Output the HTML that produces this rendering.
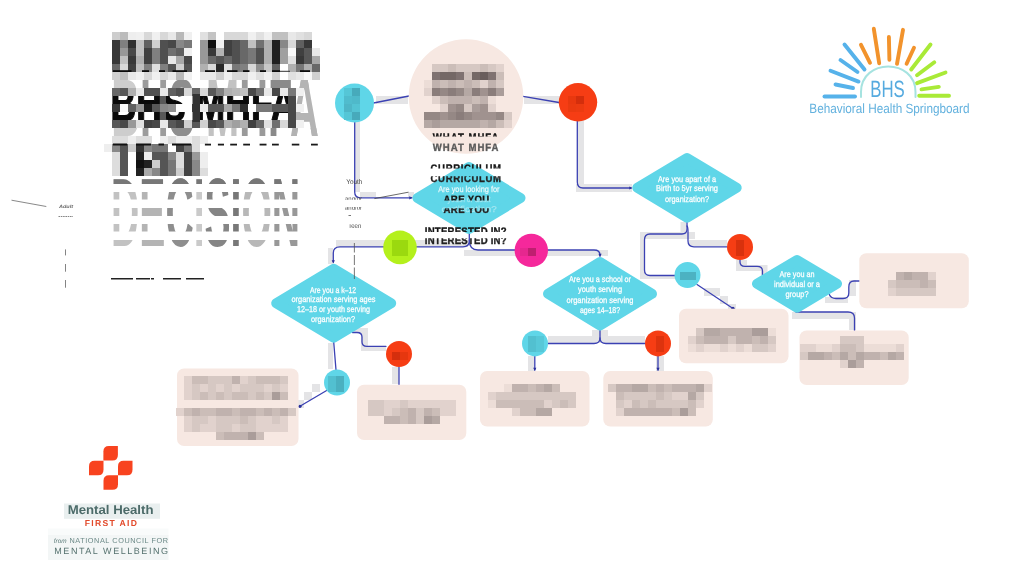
<!DOCTYPE html>
<html lang="en"><head><meta charset="utf-8"><title>BHS MHFA Decision Tree</title>
<style>
html,body{margin:0;padding:0;background:#fff;}
body{width:1024px;height:576px;overflow:hidden;font-family:"Liberation Sans",sans-serif;}
svg{display:block;position:absolute;left:0;top:0;}
text{font-family:"Liberation Sans",sans-serif;text-rendering:geometricPrecision;}
</style></head><body>
<svg width="1024" height="576" viewBox="0 0 1024 576">
<rect width="1024" height="576" fill="#fff"/>
<filter id="flat" filterUnits="userSpaceOnUse" x="0" y="0" width="1024" height="576"><feOffset dx="0" dy="0"/></filter>
<g filter="url(#flat)">

<g id="bands">
<rect x="376.0" y="96.0" width="32.0" height="8.0" fill="#e4e4e6"/>
<rect x="524.0" y="96.0" width="36.0" height="8.0" fill="#e4e4e6"/>
<rect x="355.0" y="120.0" width="5.0" height="72.0" fill="#e4e4e6"/>
<rect x="360.0" y="192.0" width="16.0" height="5.0" fill="#e4e4e6"/>
<rect x="408.0" y="192.0" width="6.0" height="5.0" fill="#e4e4e6"/>
<rect x="577.5" y="120.0" width="6.5" height="72.0" fill="#e4e4e6"/>
<rect x="576.0" y="184.0" width="56.0" height="8.0" fill="#e4e4e6"/>
<rect x="336.0" y="240.0" width="132.0" height="7.0" fill="#e4e4e6"/>
<rect x="328.0" y="248.0" width="5.0" height="16.0" fill="#e4e4e6"/>
<rect x="464.0" y="250.0" width="144.0" height="6.0" fill="#e4e4e6"/>
<rect x="328.0" y="343.0" width="5.0" height="26.0" fill="#e4e4e6"/>
<rect x="312.0" y="384.0" width="8.0" height="8.0" fill="#e4e4e6"/>
<rect x="304.0" y="392.0" width="8.0" height="8.0" fill="#e4e4e6"/>
<rect x="296.0" y="400.0" width="8.0" height="8.0" fill="#e4e4e6"/>
<rect x="352.0" y="328.0" width="16.0" height="5.0" fill="#e4e4e6"/>
<rect x="361.0" y="333.0" width="7.0" height="18.0" fill="#e4e4e6"/>
<rect x="361.0" y="346.0" width="25.0" height="5.0" fill="#e4e4e6"/>
<rect x="392.0" y="367.0" width="7.0" height="17.0" fill="#e4e4e6"/>
<rect x="548.0" y="336.0" width="97.0" height="7.0" fill="#e4e4e6"/>
<rect x="592.0" y="330.0" width="16.0" height="13.0" fill="#e4e4e6"/>
<rect x="528.0" y="356.0" width="6.5" height="18.0" fill="#e4e4e6"/>
<rect x="656.0" y="356.0" width="8.0" height="18.0" fill="#e4e4e6"/>
<rect x="680.5" y="222.0" width="5.5" height="17.0" fill="#e4e4e6"/>
<rect x="640.0" y="232.0" width="55.0" height="7.0" fill="#e4e4e6"/>
<rect x="640.0" y="232.0" width="5.0" height="47.0" fill="#e4e4e6"/>
<rect x="640.0" y="275.0" width="35.0" height="4.0" fill="#e4e4e6"/>
<rect x="689.0" y="240.0" width="38.0" height="6.0" fill="#e4e4e6"/>
<rect x="736.0" y="260.0" width="11.0" height="11.0" fill="#e4e4e6"/>
<rect x="747.0" y="265.0" width="20.0" height="6.0" fill="#e4e4e6"/>
<rect x="761.0" y="265.0" width="6.5" height="10.0" fill="#e4e4e6"/>
<rect x="704.0" y="288.0" width="16.0" height="8.0" fill="#e4e4e6"/>
<rect x="720.0" y="296.0" width="8.0" height="8.0" fill="#e4e4e6"/>
<rect x="728.0" y="304.0" width="8.0" height="6.0" fill="#e4e4e6"/>
<rect x="825.0" y="297.0" width="23.0" height="6.0" fill="#e4e4e6"/>
<rect x="849.0" y="280.0" width="7.0" height="16.0" fill="#e4e4e6"/>
<rect x="792.0" y="312.0" width="64.0" height="7.0" fill="#e4e4e6"/>
<rect x="849.0" y="319.0" width="7.0" height="11.0" fill="#e4e4e6"/>
</g>
<g id="lines">
<path d="M373.5,103 L409,96" fill="none" stroke="#3b41b3" stroke-width="1.3" stroke-linecap="round" stroke-linejoin="round"/>
<path d="M523,96.3 L559,102.5" fill="none" stroke="#3b41b3" stroke-width="1.3" stroke-linecap="round" stroke-linejoin="round"/>
<path d="M354.7,122 V192 Q354.7,197.8 360.5,197.8 H412" fill="none" stroke="#3b41b3" stroke-width="1.3" stroke-linecap="round" stroke-linejoin="round"/>
<path d="M374.4,198.6 L408.5,192.2" stroke="#444" stroke-width="0.8" fill="none"/>
<path d="M577.3,121 V182 Q577.3,188 583,188 H631" fill="none" stroke="#3b41b3" stroke-width="1.3" stroke-linecap="round" stroke-linejoin="round"/>
<path d="M469.3,233 V241 Q469.3,246.8 463,246.8 H340 Q333.3,246.8 333.3,253 V262" fill="none" stroke="#3b41b3" stroke-width="1.3" stroke-linecap="round" stroke-linejoin="round"/>
<path d="M469.3,240 Q469.3,250 478,250 H594 Q600,250 600,255 V256" fill="none" stroke="#3b41b3" stroke-width="1.3" stroke-linecap="round" stroke-linejoin="round"/>
<path d="M333.7,342 L336,370" fill="none" stroke="#3b41b3" stroke-width="1.3" stroke-linecap="round" stroke-linejoin="round"/>
<path d="M327.5,390 L299.5,406.5" fill="none" stroke="#3b41b3" stroke-width="1.3" stroke-linecap="round" stroke-linejoin="round"/>
<path d="M352.5,332.5 H357 Q362,332.5 362,337 V342 Q362,346.3 367,346.3 H386" fill="none" stroke="#3b41b3" stroke-width="1.3" stroke-linecap="round" stroke-linejoin="round"/>
<path d="M399,367 V385" fill="none" stroke="#3b41b3" stroke-width="1.3" stroke-linecap="round" stroke-linejoin="round"/>
<path d="M600,330 V338 Q600,343.5 594,343.5 H548" fill="none" stroke="#3b41b3" stroke-width="1.3" stroke-linecap="round" stroke-linejoin="round"/>
<path d="M600,338 Q600,343.5 606,343.5 H645" fill="none" stroke="#3b41b3" stroke-width="1.3" stroke-linecap="round" stroke-linejoin="round"/>
<path d="M534.8,356 V370" fill="none" stroke="#3b41b3" stroke-width="1.3" stroke-linecap="round" stroke-linejoin="round"/>
<path d="M658,356 V370" fill="none" stroke="#3b41b3" stroke-width="1.3" stroke-linecap="round" stroke-linejoin="round"/>
<path d="M687,222 V229 Q687,234 682,234 H650 Q644.5,234 644.5,240 V270 Q644.5,275.5 650,275.5 H675" fill="none" stroke="#3b41b3" stroke-width="1.3" stroke-linecap="round" stroke-linejoin="round"/>
<path d="M687,226 Q688,227 688,232 V241 Q688,246.8 694,246.8 H727" fill="none" stroke="#3b41b3" stroke-width="1.3" stroke-linecap="round" stroke-linejoin="round"/>
<path d="M740,260 V262 Q740,266.3 745,266.3 H757 Q762.5,266.3 762.5,271 V275" fill="none" stroke="#3b41b3" stroke-width="1.3" stroke-linecap="round" stroke-linejoin="round"/>
<path d="M697,284.5 L733,308.5" fill="none" stroke="#3b41b3" stroke-width="1.3" stroke-linecap="round" stroke-linejoin="round"/>
<path d="M829.3,294.5 Q831,298.5 836,298.5 H843 Q848.8,298.5 848.8,293 V287 Q848.8,281 854,281 H860" fill="none" stroke="#3b41b3" stroke-width="1.3" stroke-linecap="round" stroke-linejoin="round"/>
<path d="M796,312 H848 Q854.5,312 854.5,318 V331" fill="none" stroke="#3b41b3" stroke-width="1.3" stroke-linecap="round" stroke-linejoin="round"/>
<polygon points="412.5,197.8 409.3,196.2 409.3,199.4" fill="#2a2f9a"/>
<polygon points="632.5,188.0 629.3,186.4 629.3,189.6" fill="#2a2f9a"/>
<polygon points="333.3,263.5 331.7,260.3 334.9,260.3" fill="#2a2f9a"/>
<polygon points="600.0,257.0 598.4,253.8 601.6,253.8" fill="#2a2f9a"/>
<polygon points="534.8,371.0 533.2,367.8 536.4,367.8" fill="#2a2f9a"/>
<polygon points="658.0,371.0 656.4,367.8 659.6,367.8" fill="#2a2f9a"/>
<circle cx="300" cy="406.3" r="1.6" fill="#2a2f9a"/>
<circle cx="733" cy="308.3" r="1.6" fill="#2a2f9a"/>
</g>
<g id="boxes">
<rect x="177.0" y="368.4" width="121.5" height="77.6" rx="7" fill="#f7e8e2"/>
<rect x="357.0" y="384.8" width="109.3" height="55.2" rx="7" fill="#f7e8e2"/>
<rect x="480.0" y="371.0" width="109.5" height="55.5" rx="7" fill="#f7e8e2"/>
<rect x="603.3" y="371.0" width="109.5" height="55.5" rx="7" fill="#f7e8e2"/>
<rect x="679.0" y="308.8" width="109.5" height="54.4" rx="7" fill="#f7e8e2"/>
<rect x="799.5" y="330.5" width="109.2" height="54.5" rx="7" fill="#f7e8e2"/>
<rect x="859.3" y="253.3" width="109.5" height="55.0" rx="7" fill="#f7e8e2"/>
</g>
<g id="boxmosaic">
<rect x="184" y="376" width="8" height="8" fill="#e1d2cd"/>
<rect x="192" y="376" width="8" height="8" fill="#cbbdb8"/>
<rect x="200" y="376" width="8" height="8" fill="#cbbdb8"/>
<rect x="208" y="376" width="8" height="8" fill="#d6c8c3"/>
<rect x="216" y="376" width="8" height="8" fill="#d6c8c3"/>
<rect x="224" y="376" width="8" height="8" fill="#d6c8c3"/>
<rect x="232" y="376" width="8" height="8" fill="#c0b2ae"/>
<rect x="240" y="376" width="8" height="8" fill="#e1d2cd"/>
<rect x="248" y="376" width="8" height="8" fill="#d6c8c3"/>
<rect x="256" y="376" width="8" height="8" fill="#cbbdb8"/>
<rect x="264" y="376" width="8" height="8" fill="#cbbdb8"/>
<rect x="272" y="376" width="8" height="8" fill="#cbbdb8"/>
<rect x="280" y="376" width="8" height="8" fill="#d6c8c3"/>
<rect x="184" y="384" width="8" height="8" fill="#e1d2cd"/>
<rect x="192" y="384" width="8" height="8" fill="#d6c8c3"/>
<rect x="200" y="384" width="8" height="8" fill="#e1d2cd"/>
<rect x="208" y="384" width="8" height="8" fill="#d6c8c3"/>
<rect x="216" y="384" width="8" height="8" fill="#e1d2cd"/>
<rect x="224" y="384" width="8" height="8" fill="#d6c8c3"/>
<rect x="232" y="384" width="8" height="8" fill="#e1d2cd"/>
<rect x="240" y="384" width="8" height="8" fill="#d6c8c3"/>
<rect x="248" y="384" width="8" height="8" fill="#d6c8c3"/>
<rect x="256" y="384" width="8" height="8" fill="#d6c8c3"/>
<rect x="264" y="384" width="8" height="8" fill="#e1d2cd"/>
<rect x="272" y="384" width="8" height="8" fill="#d6c8c3"/>
<rect x="280" y="384" width="8" height="8" fill="#e1d2cd"/>
<rect x="184" y="392" width="8" height="8" fill="#e1d2cd"/>
<rect x="192" y="392" width="8" height="8" fill="#d6c8c3"/>
<rect x="200" y="392" width="8" height="8" fill="#cbbdb8"/>
<rect x="208" y="392" width="8" height="8" fill="#d6c8c3"/>
<rect x="216" y="392" width="8" height="8" fill="#cbbdb8"/>
<rect x="224" y="392" width="8" height="8" fill="#d6c8c3"/>
<rect x="232" y="392" width="8" height="8" fill="#cbbdb8"/>
<rect x="240" y="392" width="8" height="8" fill="#cbbdb8"/>
<rect x="248" y="392" width="8" height="8" fill="#d6c8c3"/>
<rect x="256" y="392" width="8" height="8" fill="#cbbdb8"/>
<rect x="264" y="392" width="8" height="8" fill="#d6c8c3"/>
<rect x="272" y="392" width="8" height="8" fill="#aa9d9a"/>
<rect x="280" y="392" width="8" height="8" fill="#cbbdb8"/>
<rect x="176" y="408" width="8" height="8" fill="#e1d2cd"/>
<rect x="184" y="408" width="8" height="8" fill="#cbbdb8"/>
<rect x="192" y="408" width="8" height="8" fill="#c0b2ae"/>
<rect x="200" y="408" width="8" height="8" fill="#cbbdb8"/>
<rect x="208" y="408" width="8" height="8" fill="#cbbdb8"/>
<rect x="216" y="408" width="8" height="8" fill="#c0b2ae"/>
<rect x="224" y="408" width="8" height="8" fill="#c0b2ae"/>
<rect x="232" y="408" width="8" height="8" fill="#cbbdb8"/>
<rect x="240" y="408" width="8" height="8" fill="#c0b2ae"/>
<rect x="248" y="408" width="8" height="8" fill="#c0b2ae"/>
<rect x="256" y="408" width="8" height="8" fill="#cbbdb8"/>
<rect x="264" y="408" width="8" height="8" fill="#c0b2ae"/>
<rect x="272" y="408" width="8" height="8" fill="#cbbdb8"/>
<rect x="280" y="408" width="8" height="8" fill="#c0b2ae"/>
<rect x="288" y="408" width="8" height="8" fill="#d6c8c3"/>
<rect x="184" y="416" width="8" height="8" fill="#e1d2cd"/>
<rect x="192" y="416" width="8" height="8" fill="#d6c8c3"/>
<rect x="200" y="416" width="8" height="8" fill="#d6c8c3"/>
<rect x="208" y="416" width="8" height="8" fill="#e1d2cd"/>
<rect x="216" y="416" width="8" height="8" fill="#d6c8c3"/>
<rect x="224" y="416" width="8" height="8" fill="#d6c8c3"/>
<rect x="232" y="416" width="8" height="8" fill="#d6c8c3"/>
<rect x="240" y="416" width="8" height="8" fill="#cbbdb8"/>
<rect x="248" y="416" width="8" height="8" fill="#d6c8c3"/>
<rect x="256" y="416" width="8" height="8" fill="#e1d2cd"/>
<rect x="264" y="416" width="8" height="8" fill="#e1d2cd"/>
<rect x="272" y="416" width="8" height="8" fill="#d6c8c3"/>
<rect x="280" y="416" width="8" height="8" fill="#e1d2cd"/>
<rect x="184" y="424" width="8" height="8" fill="#e1d2cd"/>
<rect x="192" y="424" width="8" height="8" fill="#d6c8c3"/>
<rect x="200" y="424" width="8" height="8" fill="#e1d2cd"/>
<rect x="208" y="424" width="8" height="8" fill="#e1d2cd"/>
<rect x="216" y="424" width="8" height="8" fill="#d6c8c3"/>
<rect x="224" y="424" width="8" height="8" fill="#d6c8c3"/>
<rect x="232" y="424" width="8" height="8" fill="#e1d2cd"/>
<rect x="240" y="424" width="8" height="8" fill="#d6c8c3"/>
<rect x="248" y="424" width="8" height="8" fill="#d6c8c3"/>
<rect x="256" y="424" width="8" height="8" fill="#e1d2cd"/>
<rect x="264" y="424" width="8" height="8" fill="#e1d2cd"/>
<rect x="272" y="424" width="8" height="8" fill="#e1d2cd"/>
<rect x="280" y="424" width="8" height="8" fill="#e1d2cd"/>
<rect x="216" y="432" width="8" height="8" fill="#cbbdb8"/>
<rect x="224" y="432" width="8" height="8" fill="#c0b2ae"/>
<rect x="232" y="432" width="8" height="8" fill="#c0b2ae"/>
<rect x="240" y="432" width="8" height="8" fill="#c0b2ae"/>
<rect x="248" y="432" width="8" height="8" fill="#aa9d9a"/>
<rect x="256" y="432" width="8" height="8" fill="#cbbdb8"/>
<rect x="368" y="400" width="8" height="8" fill="#d6c8c3"/>
<rect x="376" y="400" width="8" height="8" fill="#d6c8c3"/>
<rect x="384" y="400" width="8" height="8" fill="#e1d2cd"/>
<rect x="392" y="400" width="8" height="8" fill="#e1d2cd"/>
<rect x="400" y="400" width="8" height="8" fill="#d6c8c3"/>
<rect x="408" y="400" width="8" height="8" fill="#e1d2cd"/>
<rect x="416" y="400" width="8" height="8" fill="#e1d2cd"/>
<rect x="424" y="400" width="8" height="8" fill="#e1d2cd"/>
<rect x="432" y="400" width="8" height="8" fill="#e1d2cd"/>
<rect x="440" y="400" width="8" height="8" fill="#e1d2cd"/>
<rect x="448" y="400" width="8" height="8" fill="#e1d2cd"/>
<rect x="368" y="408" width="8" height="8" fill="#d6c8c3"/>
<rect x="376" y="408" width="8" height="8" fill="#d6c8c3"/>
<rect x="384" y="408" width="8" height="8" fill="#e1d2cd"/>
<rect x="392" y="408" width="8" height="8" fill="#d6c8c3"/>
<rect x="400" y="408" width="8" height="8" fill="#cbbdb8"/>
<rect x="408" y="408" width="8" height="8" fill="#c0b2ae"/>
<rect x="416" y="408" width="8" height="8" fill="#d6c8c3"/>
<rect x="424" y="408" width="8" height="8" fill="#c0b2ae"/>
<rect x="432" y="408" width="8" height="8" fill="#cbbdb8"/>
<rect x="440" y="408" width="8" height="8" fill="#e1d2cd"/>
<rect x="448" y="408" width="8" height="8" fill="#e1d2cd"/>
<rect x="384" y="416" width="8" height="8" fill="#c0b2ae"/>
<rect x="392" y="416" width="8" height="8" fill="#c0b2ae"/>
<rect x="400" y="416" width="8" height="8" fill="#cbbdb8"/>
<rect x="408" y="416" width="8" height="8" fill="#c0b2ae"/>
<rect x="416" y="416" width="8" height="8" fill="#d6c8c3"/>
<rect x="424" y="416" width="8" height="8" fill="#aa9d9a"/>
<rect x="432" y="416" width="8" height="8" fill="#b5a8a4"/>
<rect x="504" y="384" width="8" height="8" fill="#ecddd7"/>
<rect x="512" y="384" width="8" height="8" fill="#c0b2ae"/>
<rect x="520" y="384" width="8" height="8" fill="#c0b2ae"/>
<rect x="528" y="384" width="8" height="8" fill="#cbbdb8"/>
<rect x="536" y="384" width="8" height="8" fill="#c0b2ae"/>
<rect x="544" y="384" width="8" height="8" fill="#b5a8a4"/>
<rect x="552" y="384" width="8" height="8" fill="#cbbdb8"/>
<rect x="488" y="392" width="8" height="8" fill="#e1d2cd"/>
<rect x="496" y="392" width="8" height="8" fill="#d6c8c3"/>
<rect x="504" y="392" width="8" height="8" fill="#d6c8c3"/>
<rect x="512" y="392" width="8" height="8" fill="#d6c8c3"/>
<rect x="520" y="392" width="8" height="8" fill="#d6c8c3"/>
<rect x="528" y="392" width="8" height="8" fill="#d6c8c3"/>
<rect x="536" y="392" width="8" height="8" fill="#d6c8c3"/>
<rect x="544" y="392" width="8" height="8" fill="#d6c8c3"/>
<rect x="552" y="392" width="8" height="8" fill="#d6c8c3"/>
<rect x="560" y="392" width="8" height="8" fill="#d6c8c3"/>
<rect x="568" y="392" width="8" height="8" fill="#d6c8c3"/>
<rect x="488" y="400" width="8" height="8" fill="#ecddd7"/>
<rect x="496" y="400" width="8" height="8" fill="#cbbdb8"/>
<rect x="504" y="400" width="8" height="8" fill="#cbbdb8"/>
<rect x="512" y="400" width="8" height="8" fill="#cbbdb8"/>
<rect x="520" y="400" width="8" height="8" fill="#cbbdb8"/>
<rect x="528" y="400" width="8" height="8" fill="#cbbdb8"/>
<rect x="536" y="400" width="8" height="8" fill="#cbbdb8"/>
<rect x="544" y="400" width="8" height="8" fill="#e1d2cd"/>
<rect x="552" y="400" width="8" height="8" fill="#d6c8c3"/>
<rect x="560" y="400" width="8" height="8" fill="#cbbdb8"/>
<rect x="568" y="400" width="8" height="8" fill="#d6c8c3"/>
<rect x="512" y="408" width="8" height="8" fill="#e1d2cd"/>
<rect x="520" y="408" width="8" height="8" fill="#cbbdb8"/>
<rect x="528" y="408" width="8" height="8" fill="#cbbdb8"/>
<rect x="536" y="408" width="8" height="8" fill="#b5a8a4"/>
<rect x="544" y="408" width="8" height="8" fill="#b5a8a4"/>
<rect x="608" y="384" width="8" height="8" fill="#d6c8c3"/>
<rect x="616" y="384" width="8" height="8" fill="#c0b2ae"/>
<rect x="624" y="384" width="8" height="8" fill="#c0b2ae"/>
<rect x="632" y="384" width="8" height="8" fill="#b5a8a4"/>
<rect x="640" y="384" width="8" height="8" fill="#b5a8a4"/>
<rect x="648" y="384" width="8" height="8" fill="#cbbdb8"/>
<rect x="656" y="384" width="8" height="8" fill="#c0b2ae"/>
<rect x="664" y="384" width="8" height="8" fill="#cbbdb8"/>
<rect x="672" y="384" width="8" height="8" fill="#c0b2ae"/>
<rect x="680" y="384" width="8" height="8" fill="#c0b2ae"/>
<rect x="688" y="384" width="8" height="8" fill="#c0b2ae"/>
<rect x="696" y="384" width="8" height="8" fill="#b5a8a4"/>
<rect x="704" y="384" width="8" height="8" fill="#e1d2cd"/>
<rect x="616" y="392" width="8" height="8" fill="#cbbdb8"/>
<rect x="624" y="392" width="8" height="8" fill="#d6c8c3"/>
<rect x="632" y="392" width="8" height="8" fill="#d6c8c3"/>
<rect x="640" y="392" width="8" height="8" fill="#d6c8c3"/>
<rect x="648" y="392" width="8" height="8" fill="#d6c8c3"/>
<rect x="656" y="392" width="8" height="8" fill="#cbbdb8"/>
<rect x="664" y="392" width="8" height="8" fill="#d6c8c3"/>
<rect x="672" y="392" width="8" height="8" fill="#e1d2cd"/>
<rect x="680" y="392" width="8" height="8" fill="#e1d2cd"/>
<rect x="688" y="392" width="8" height="8" fill="#b5a8a4"/>
<rect x="696" y="392" width="8" height="8" fill="#d6c8c3"/>
<rect x="616" y="400" width="8" height="8" fill="#d6c8c3"/>
<rect x="624" y="400" width="8" height="8" fill="#e1d2cd"/>
<rect x="632" y="400" width="8" height="8" fill="#cbbdb8"/>
<rect x="640" y="400" width="8" height="8" fill="#d6c8c3"/>
<rect x="648" y="400" width="8" height="8" fill="#cbbdb8"/>
<rect x="656" y="400" width="8" height="8" fill="#d6c8c3"/>
<rect x="664" y="400" width="8" height="8" fill="#d6c8c3"/>
<rect x="672" y="400" width="8" height="8" fill="#d6c8c3"/>
<rect x="680" y="400" width="8" height="8" fill="#d6c8c3"/>
<rect x="688" y="400" width="8" height="8" fill="#cbbdb8"/>
<rect x="696" y="400" width="8" height="8" fill="#e1d2cd"/>
<rect x="616" y="408" width="8" height="8" fill="#e1d2cd"/>
<rect x="624" y="408" width="8" height="8" fill="#c0b2ae"/>
<rect x="632" y="408" width="8" height="8" fill="#c0b2ae"/>
<rect x="640" y="408" width="8" height="8" fill="#c0b2ae"/>
<rect x="648" y="408" width="8" height="8" fill="#c0b2ae"/>
<rect x="656" y="408" width="8" height="8" fill="#c0b2ae"/>
<rect x="664" y="408" width="8" height="8" fill="#c0b2ae"/>
<rect x="672" y="408" width="8" height="8" fill="#cbbdb8"/>
<rect x="680" y="408" width="8" height="8" fill="#aa9d9a"/>
<rect x="688" y="408" width="8" height="8" fill="#cbbdb8"/>
<rect x="696" y="328" width="8" height="8" fill="#d6c8c3"/>
<rect x="704" y="328" width="8" height="8" fill="#b5a8a4"/>
<rect x="712" y="328" width="8" height="8" fill="#b5a8a4"/>
<rect x="720" y="328" width="8" height="8" fill="#c0b2ae"/>
<rect x="728" y="328" width="8" height="8" fill="#c0b2ae"/>
<rect x="736" y="328" width="8" height="8" fill="#c0b2ae"/>
<rect x="744" y="328" width="8" height="8" fill="#c0b2ae"/>
<rect x="752" y="328" width="8" height="8" fill="#aa9d9a"/>
<rect x="760" y="328" width="8" height="8" fill="#aa9d9a"/>
<rect x="768" y="328" width="8" height="8" fill="#ecddd7"/>
<rect x="688" y="336" width="8" height="8" fill="#e1d2cd"/>
<rect x="696" y="336" width="8" height="8" fill="#cbbdb8"/>
<rect x="704" y="336" width="8" height="8" fill="#c0b2ae"/>
<rect x="712" y="336" width="8" height="8" fill="#c0b2ae"/>
<rect x="720" y="336" width="8" height="8" fill="#c0b2ae"/>
<rect x="728" y="336" width="8" height="8" fill="#d6c8c3"/>
<rect x="736" y="336" width="8" height="8" fill="#c0b2ae"/>
<rect x="744" y="336" width="8" height="8" fill="#c0b2ae"/>
<rect x="752" y="336" width="8" height="8" fill="#cbbdb8"/>
<rect x="760" y="336" width="8" height="8" fill="#c0b2ae"/>
<rect x="768" y="336" width="8" height="8" fill="#d6c8c3"/>
<rect x="688" y="344" width="8" height="8" fill="#ecddd7"/>
<rect x="696" y="344" width="8" height="8" fill="#e1d2cd"/>
<rect x="704" y="344" width="8" height="8" fill="#ecddd7"/>
<rect x="712" y="344" width="8" height="8" fill="#ecddd7"/>
<rect x="720" y="344" width="8" height="8" fill="#e1d2cd"/>
<rect x="728" y="344" width="8" height="8" fill="#ecddd7"/>
<rect x="736" y="344" width="8" height="8" fill="#e1d2cd"/>
<rect x="744" y="344" width="8" height="8" fill="#ecddd7"/>
<rect x="752" y="344" width="8" height="8" fill="#d6c8c3"/>
<rect x="760" y="344" width="8" height="8" fill="#d6c8c3"/>
<rect x="768" y="344" width="8" height="8" fill="#e1d2cd"/>
<rect x="840" y="336" width="8" height="8" fill="#d6c8c3"/>
<rect x="848" y="336" width="8" height="8" fill="#d6c8c3"/>
<rect x="856" y="336" width="8" height="8" fill="#d6c8c3"/>
<rect x="800" y="344" width="8" height="8" fill="#e1d2cd"/>
<rect x="808" y="344" width="8" height="8" fill="#e1d2cd"/>
<rect x="816" y="344" width="8" height="8" fill="#ecddd7"/>
<rect x="824" y="344" width="8" height="8" fill="#ecddd7"/>
<rect x="832" y="344" width="8" height="8" fill="#e1d2cd"/>
<rect x="840" y="344" width="8" height="8" fill="#cbbdb8"/>
<rect x="848" y="344" width="8" height="8" fill="#cbbdb8"/>
<rect x="856" y="344" width="8" height="8" fill="#d6c8c3"/>
<rect x="864" y="344" width="8" height="8" fill="#ecddd7"/>
<rect x="872" y="344" width="8" height="8" fill="#ecddd7"/>
<rect x="880" y="344" width="8" height="8" fill="#ecddd7"/>
<rect x="888" y="344" width="8" height="8" fill="#ecddd7"/>
<rect x="896" y="344" width="8" height="8" fill="#e1d2cd"/>
<rect x="800" y="352" width="8" height="8" fill="#d6c8c3"/>
<rect x="808" y="352" width="8" height="8" fill="#b5a8a4"/>
<rect x="816" y="352" width="8" height="8" fill="#b5a8a4"/>
<rect x="824" y="352" width="8" height="8" fill="#c0b2ae"/>
<rect x="832" y="352" width="8" height="8" fill="#cbbdb8"/>
<rect x="840" y="352" width="8" height="8" fill="#b5a8a4"/>
<rect x="848" y="352" width="8" height="8" fill="#cbbdb8"/>
<rect x="856" y="352" width="8" height="8" fill="#b5a8a4"/>
<rect x="864" y="352" width="8" height="8" fill="#c0b2ae"/>
<rect x="872" y="352" width="8" height="8" fill="#c0b2ae"/>
<rect x="880" y="352" width="8" height="8" fill="#cbbdb8"/>
<rect x="888" y="352" width="8" height="8" fill="#b5a8a4"/>
<rect x="896" y="352" width="8" height="8" fill="#c0b2ae"/>
<rect x="840" y="360" width="8" height="8" fill="#e1d2cd"/>
<rect x="848" y="360" width="8" height="8" fill="#aa9d9a"/>
<rect x="856" y="360" width="8" height="8" fill="#c0b2ae"/>
<rect x="896" y="272" width="8" height="8" fill="#c0b2ae"/>
<rect x="904" y="272" width="8" height="8" fill="#b5a8a4"/>
<rect x="912" y="272" width="8" height="8" fill="#c0b2ae"/>
<rect x="920" y="272" width="8" height="8" fill="#c0b2ae"/>
<rect x="928" y="272" width="8" height="8" fill="#e1d2cd"/>
<rect x="888" y="280" width="8" height="8" fill="#d6c8c3"/>
<rect x="896" y="280" width="8" height="8" fill="#cbbdb8"/>
<rect x="904" y="280" width="8" height="8" fill="#cbbdb8"/>
<rect x="912" y="280" width="8" height="8" fill="#cbbdb8"/>
<rect x="920" y="280" width="8" height="8" fill="#c0b2ae"/>
<rect x="928" y="280" width="8" height="8" fill="#cbbdb8"/>
<rect x="888" y="288" width="8" height="8" fill="#e1d2cd"/>
<rect x="896" y="288" width="8" height="8" fill="#d6c8c3"/>
<rect x="904" y="288" width="8" height="8" fill="#d6c8c3"/>
<rect x="912" y="288" width="8" height="8" fill="#d6c8c3"/>
<rect x="920" y="288" width="8" height="8" fill="#d6c8c3"/>
<rect x="928" y="288" width="8" height="8" fill="#d6c8c3"/>
</g>
<g id="diamonds">
<polygon points="417.5,198.0 469.0,167.0 520.5,198.0 469.0,229.0" fill="#5fd6e8" stroke="#5fd6e8" stroke-width="10" stroke-linejoin="round"/>
<polygon points="276.2,303.2 333.7,268.7 391.2,303.2 333.7,337.7" fill="#5fd6e8" stroke="#5fd6e8" stroke-width="10" stroke-linejoin="round"/>
<polygon points="548.0,293.8 600.0,262.0 652.0,293.8 600.0,325.6" fill="#5fd6e8" stroke="#5fd6e8" stroke-width="10" stroke-linejoin="round"/>
<polygon points="637.3,187.8 687.0,158.0 736.7,187.8 687.0,217.6" fill="#5fd6e8" stroke="#5fd6e8" stroke-width="10" stroke-linejoin="round"/>
<polygon points="757.0,283.8 797.0,260.0 837.0,283.8 797.0,307.6" fill="#5fd6e8" stroke="#5fd6e8" stroke-width="10" stroke-linejoin="round"/>
</g>
<g id="circles">
<circle cx="466.0" cy="96.5" r="57.3" fill="#f7e8e2"/>
<circle cx="354.5" cy="103.0" r="19.5" fill="#5fd6e8"/>
<circle cx="578.0" cy="102.3" r="19.2" fill="#f63d14"/>
<circle cx="400.0" cy="247.4" r="16.8" fill="#b4f01c"/>
<circle cx="531.3" cy="250.4" r="16.7" fill="#f5289b"/>
<circle cx="399.0" cy="354.0" r="13.0" fill="#f63d14"/>
<circle cx="337.0" cy="382.5" r="13.0" fill="#5fd6e8"/>
<circle cx="535.0" cy="343.4" r="13.0" fill="#5fd6e8"/>
<circle cx="658.0" cy="343.4" r="13.0" fill="#f63d14"/>
<circle cx="687.5" cy="275.0" r="13.0" fill="#5fd6e8"/>
<circle cx="740.0" cy="247.0" r="13.0" fill="#f63d14"/>
</g>
<g id="cmosaic">
<rect x="344" y="88" width="8" height="8" fill="#55c6d6"/>
<rect x="352" y="88" width="8" height="8" fill="#47aabb"/>
<rect x="344" y="96" width="8" height="8" fill="#50bccd"/>
<rect x="352" y="96" width="8" height="8" fill="#4fb9ca"/>
<rect x="344" y="104" width="8" height="8" fill="#4eb6c7"/>
<rect x="352" y="104" width="8" height="8" fill="#54c3d3"/>
<rect x="344" y="112" width="8" height="8" fill="#55c6d6"/>
<rect x="352" y="112" width="8" height="8" fill="#47aabb"/>
<rect x="568" y="96" width="8" height="8" fill="#e8380f"/>
<rect x="576" y="96" width="8" height="8" fill="#d42e0c"/>
<rect x="568" y="104" width="8" height="8" fill="#ea3a10"/>
<rect x="576" y="104" width="8" height="8" fill="#ec3b11"/>
<rect x="392" y="240" width="16" height="16" fill="#9bd90f"/>
<rect x="520" y="248" width="8" height="8" fill="#e6278f"/>
<rect x="528" y="248" width="8" height="8" fill="#bf1f70"/>
<rect x="392" y="352" width="8" height="8" fill="#d52f0d"/>
<rect x="400" y="352" width="8" height="8" fill="#e6370f"/>
<rect x="328" y="376" width="8" height="16" fill="#52c0d0"/>
<rect x="336" y="376" width="8" height="16" fill="#4ab0c0"/>
<rect x="528" y="336" width="8" height="16" fill="#52c0d0"/>
<rect x="536" y="336" width="8" height="16" fill="#57c8d8"/>
<rect x="656" y="336" width="8" height="16" fill="#dd330e"/>
<rect x="680" y="272" width="16" height="8" fill="#4cb2c2"/>
<rect x="736" y="240" width="8" height="16" fill="#d9310d"/>
</g>
<g id="bigmosaic">
<rect x="432" y="64" width="8" height="8" fill="#d6c8c3"/>
<rect x="440" y="64" width="8" height="8" fill="#d6c8c3"/>
<rect x="448" y="64" width="8" height="8" fill="#cbbdb8"/>
<rect x="456" y="64" width="8" height="8" fill="#d6c8c3"/>
<rect x="464" y="64" width="8" height="8" fill="#d6c8c3"/>
<rect x="472" y="64" width="8" height="8" fill="#d6c8c3"/>
<rect x="480" y="64" width="8" height="8" fill="#cbbdb8"/>
<rect x="488" y="64" width="8" height="8" fill="#d6c8c3"/>
<rect x="496" y="64" width="8" height="8" fill="#e1d2cd"/>
<rect x="432" y="72" width="8" height="8" fill="#7f7271"/>
<rect x="440" y="72" width="8" height="8" fill="#746866"/>
<rect x="448" y="72" width="8" height="8" fill="#746866"/>
<rect x="456" y="72" width="8" height="8" fill="#7f7271"/>
<rect x="464" y="72" width="8" height="8" fill="#cbbdb8"/>
<rect x="472" y="72" width="8" height="8" fill="#746866"/>
<rect x="480" y="72" width="8" height="8" fill="#695d5c"/>
<rect x="488" y="72" width="8" height="8" fill="#7f7271"/>
<rect x="496" y="72" width="8" height="8" fill="#cbbdb8"/>
<rect x="424" y="80" width="8" height="8" fill="#ecddd7"/>
<rect x="432" y="80" width="8" height="8" fill="#c0b2ae"/>
<rect x="440" y="80" width="8" height="8" fill="#cbbdb8"/>
<rect x="448" y="80" width="8" height="8" fill="#c0b2ae"/>
<rect x="456" y="80" width="8" height="8" fill="#cbbdb8"/>
<rect x="464" y="80" width="8" height="8" fill="#c0b2ae"/>
<rect x="472" y="80" width="8" height="8" fill="#cbbdb8"/>
<rect x="480" y="80" width="8" height="8" fill="#e1d2cd"/>
<rect x="488" y="80" width="8" height="8" fill="#c0b2ae"/>
<rect x="496" y="80" width="8" height="8" fill="#d6c8c3"/>
<rect x="424" y="88" width="8" height="8" fill="#e1d2cd"/>
<rect x="432" y="88" width="8" height="8" fill="#8a7d7b"/>
<rect x="440" y="88" width="8" height="8" fill="#958885"/>
<rect x="448" y="88" width="8" height="8" fill="#8a7d7b"/>
<rect x="456" y="88" width="8" height="8" fill="#958885"/>
<rect x="464" y="88" width="8" height="8" fill="#b5a8a4"/>
<rect x="472" y="88" width="8" height="8" fill="#8a7d7b"/>
<rect x="480" y="88" width="8" height="8" fill="#a0928f"/>
<rect x="488" y="88" width="8" height="8" fill="#8a7d7b"/>
<rect x="496" y="88" width="8" height="8" fill="#aa9d9a"/>
<rect x="432" y="96" width="8" height="8" fill="#e1d2cd"/>
<rect x="440" y="96" width="8" height="8" fill="#cbbdb8"/>
<rect x="448" y="96" width="8" height="8" fill="#c0b2ae"/>
<rect x="456" y="96" width="8" height="8" fill="#c0b2ae"/>
<rect x="464" y="96" width="8" height="8" fill="#c0b2ae"/>
<rect x="472" y="96" width="8" height="8" fill="#cbbdb8"/>
<rect x="480" y="96" width="8" height="8" fill="#c0b2ae"/>
<rect x="488" y="96" width="8" height="8" fill="#ecddd7"/>
<rect x="440" y="104" width="8" height="8" fill="#e1d2cd"/>
<rect x="448" y="104" width="8" height="8" fill="#a0928f"/>
<rect x="456" y="104" width="8" height="8" fill="#958885"/>
<rect x="464" y="104" width="8" height="8" fill="#d6c8c3"/>
<rect x="472" y="104" width="8" height="8" fill="#aa9d9a"/>
<rect x="480" y="104" width="8" height="8" fill="#a0928f"/>
<rect x="488" y="104" width="8" height="8" fill="#e1d2cd"/>
<rect x="424" y="112" width="8" height="8" fill="#958885"/>
<rect x="432" y="112" width="8" height="8" fill="#958885"/>
<rect x="440" y="112" width="8" height="8" fill="#a0928f"/>
<rect x="448" y="112" width="8" height="8" fill="#958885"/>
<rect x="456" y="112" width="8" height="8" fill="#8a7d7b"/>
<rect x="464" y="112" width="8" height="8" fill="#958885"/>
<rect x="472" y="112" width="8" height="8" fill="#a0928f"/>
<rect x="480" y="112" width="8" height="8" fill="#a0928f"/>
<rect x="488" y="112" width="8" height="8" fill="#a0928f"/>
<rect x="496" y="112" width="8" height="8" fill="#958885"/>
<rect x="504" y="112" width="8" height="8" fill="#d6c8c3"/>
<rect x="424" y="120" width="8" height="8" fill="#b5a8a4"/>
<rect x="432" y="120" width="8" height="8" fill="#aa9d9a"/>
<rect x="440" y="120" width="8" height="8" fill="#b5a8a4"/>
<rect x="448" y="120" width="8" height="8" fill="#b5a8a4"/>
<rect x="456" y="120" width="8" height="8" fill="#b5a8a4"/>
<rect x="464" y="120" width="8" height="8" fill="#b5a8a4"/>
<rect x="472" y="120" width="8" height="8" fill="#b5a8a4"/>
<rect x="480" y="120" width="8" height="8" fill="#c0b2ae"/>
<rect x="488" y="120" width="8" height="8" fill="#b5a8a4"/>
<rect x="496" y="120" width="8" height="8" fill="#cbbdb8"/>
<rect x="504" y="120" width="8" height="8" fill="#e1d2cd"/>
</g>
<g id="dtext">
<text x="438.2" y="191.6" font-size="8.5" fill="#fff" fill-opacity="0.8" stroke="#fff" stroke-width="0.25" stroke-opacity="0.8" font-weight="normal" textLength="61.3" lengthAdjust="spacingAndGlyphs" >Are you looking for</text>
<text x="447.5" y="202.0" font-size="8.5" fill="#fff" fill-opacity="0.35" stroke="#fff" stroke-width="0.25" stroke-opacity="0.35" font-weight="normal" textLength="43.0" lengthAdjust="spacingAndGlyphs" >youth or adult</text>
<text x="441.4" y="211.8" font-size="8.5" fill="#fff" fill-opacity="0.35" stroke="#fff" stroke-width="0.25" stroke-opacity="0.35" font-weight="normal" textLength="55.3" lengthAdjust="spacingAndGlyphs" >certification?</text>
<text x="310.0" y="292.5" font-size="8.5" fill="#fff" fill-opacity="1" stroke="#fff" stroke-width="0.25" stroke-opacity="1" font-weight="normal" textLength="46.0" lengthAdjust="spacingAndGlyphs" >Are you a k–12</text>
<text x="291.5" y="302.3" font-size="8.5" fill="#fff" fill-opacity="1" stroke="#fff" stroke-width="0.25" stroke-opacity="1" font-weight="normal" textLength="84.0" lengthAdjust="spacingAndGlyphs" >organization serving ages</text>
<text x="297.0" y="312.3" font-size="8.5" fill="#fff" fill-opacity="1" stroke="#fff" stroke-width="0.25" stroke-opacity="1" font-weight="normal" textLength="73.0" lengthAdjust="spacingAndGlyphs" >12–18 or youth serving</text>
<text x="311.0" y="322.0" font-size="8.5" fill="#fff" fill-opacity="1" stroke="#fff" stroke-width="0.25" stroke-opacity="1" font-weight="normal" textLength="44.0" lengthAdjust="spacingAndGlyphs" >organization?</text>
<text x="569.0" y="282.3" font-size="8.5" fill="#fff" fill-opacity="1" stroke="#fff" stroke-width="0.25" stroke-opacity="1" font-weight="normal" textLength="62.0" lengthAdjust="spacingAndGlyphs" >Are you a school or</text>
<text x="578.0" y="292.3" font-size="8.5" fill="#fff" fill-opacity="1" stroke="#fff" stroke-width="0.25" stroke-opacity="1" font-weight="normal" textLength="44.0" lengthAdjust="spacingAndGlyphs" >youth serving</text>
<text x="566.5" y="302.5" font-size="8.5" fill="#fff" fill-opacity="1" stroke="#fff" stroke-width="0.25" stroke-opacity="1" font-weight="normal" textLength="67.0" lengthAdjust="spacingAndGlyphs" >organization serving</text>
<text x="580.0" y="312.5" font-size="8.5" fill="#fff" fill-opacity="1" stroke="#fff" stroke-width="0.25" stroke-opacity="1" font-weight="normal" textLength="40.0" lengthAdjust="spacingAndGlyphs" >ages 14–18?</text>
<text x="658.0" y="181.5" font-size="8.5" fill="#fff" fill-opacity="1" stroke="#fff" stroke-width="0.25" stroke-opacity="1" font-weight="normal" textLength="58.0" lengthAdjust="spacingAndGlyphs" >Are you apart of a</text>
<text x="656.0" y="191.3" font-size="8.5" fill="#fff" fill-opacity="1" stroke="#fff" stroke-width="0.25" stroke-opacity="1" font-weight="normal" textLength="62.0" lengthAdjust="spacingAndGlyphs" >Birth to 5yr serving</text>
<text x="665.0" y="201.5" font-size="8.5" fill="#fff" fill-opacity="1" stroke="#fff" stroke-width="0.25" stroke-opacity="1" font-weight="normal" textLength="44.0" lengthAdjust="spacingAndGlyphs" >organization?</text>
<text x="779.5" y="277.3" font-size="8.5" fill="#fff" fill-opacity="1" stroke="#fff" stroke-width="0.25" stroke-opacity="1" font-weight="normal" textLength="35.0" lengthAdjust="spacingAndGlyphs" >Are you an</text>
<text x="774.0" y="287.3" font-size="8.5" fill="#fff" fill-opacity="1" stroke="#fff" stroke-width="0.25" stroke-opacity="1" font-weight="normal" textLength="46.0" lengthAdjust="spacingAndGlyphs" >individual or a</text>
<text x="785.5" y="297.3" font-size="8.5" fill="#fff" fill-opacity="1" stroke="#fff" stroke-width="0.25" stroke-opacity="1" font-weight="normal" textLength="23.0" lengthAdjust="spacingAndGlyphs" >group?</text>
</g>
<defs>
<clipPath id="cEven"><rect x="100" y="80" width="230" height="8"/><rect x="100" y="128" width="230" height="8"/></clipPath>
<clipPath id="cBlk"><rect x="100" y="96" width="196" height="8"/><rect x="100" y="112" width="196" height="8"/></clipPath>
<clipPath id="cGreyA"><rect x="296" y="80" width="30" height="56"/></clipPath>
<clipPath id="cDec"><rect x="100" y="178" width="230" height="6"/><rect x="100" y="192" width="230" height="7.5"/><rect x="100" y="208" width="230" height="8"/><rect x="100" y="224" width="230" height="7.5"/><rect x="100" y="240" width="230" height="7"/></clipPath>
<clipPath id="cDecTop"><rect x="100" y="178" width="230" height="6"/></clipPath>
</defs>
<g id="title">
<rect x="112" y="32" width="8" height="8" fill="#cdcdcd"/>
<rect x="120" y="32" width="8" height="8" fill="#bbbbbb"/>
<rect x="128" y="32" width="8" height="8" fill="#eeeeee"/>
<rect x="136" y="32" width="8" height="8" fill="#f0f0f0"/>
<rect x="144" y="32" width="8" height="8" fill="#d8d8d8"/>
<rect x="152" y="32" width="8" height="8" fill="#f0f0f0"/>
<rect x="160" y="32" width="8" height="8" fill="#d8d8d8"/>
<rect x="168" y="32" width="8" height="8" fill="#e8e8e8"/>
<rect x="176" y="32" width="8" height="8" fill="#b8b8b8"/>
<rect x="184" y="32" width="8" height="8" fill="#f0f0f0"/>
<rect x="200" y="32" width="8" height="8" fill="#e0e0e0"/>
<rect x="208" y="32" width="8" height="8" fill="#c4c4c4"/>
<rect x="216" y="32" width="8" height="8" fill="#ffffff"/>
<rect x="224" y="32" width="8" height="8" fill="#d8d8d8"/>
<rect x="232" y="32" width="8" height="8" fill="#d8d8d8"/>
<rect x="240" y="32" width="8" height="8" fill="#d8d8d8"/>
<rect x="248" y="32" width="8" height="8" fill="#f0f0f0"/>
<rect x="256" y="32" width="8" height="8" fill="#e0e0e0"/>
<rect x="264" y="32" width="8" height="8" fill="#f0f0f0"/>
<rect x="272" y="32" width="8" height="8" fill="#c0c0c0"/>
<rect x="280" y="32" width="8" height="8" fill="#c0c0c0"/>
<rect x="288" y="32" width="8" height="8" fill="#e8e8e8"/>
<rect x="296" y="32" width="8" height="8" fill="#e0e0e0"/>
<rect x="304" y="32" width="8" height="8" fill="#d8d8d8"/>
<rect x="112" y="40" width="8" height="8" fill="#383838"/>
<rect x="120" y="40" width="8" height="8" fill="#808080"/>
<rect x="128" y="40" width="8" height="8" fill="#303030"/>
<rect x="136" y="40" width="8" height="8" fill="#c0c0c0"/>
<rect x="144" y="40" width="8" height="8" fill="#606060"/>
<rect x="152" y="40" width="8" height="8" fill="#d0d0d0"/>
<rect x="160" y="40" width="8" height="8" fill="#505050"/>
<rect x="168" y="40" width="8" height="8" fill="#484848"/>
<rect x="176" y="40" width="8" height="8" fill="#888888"/>
<rect x="184" y="40" width="8" height="8" fill="#787878"/>
<rect x="200" y="40" width="8" height="8" fill="#989898"/>
<rect x="208" y="40" width="8" height="8" fill="#101010"/>
<rect x="216" y="40" width="8" height="8" fill="#f0f0f0"/>
<rect x="224" y="40" width="8" height="8" fill="#404040"/>
<rect x="232" y="40" width="8" height="8" fill="#505050"/>
<rect x="240" y="40" width="8" height="8" fill="#686868"/>
<rect x="248" y="40" width="8" height="8" fill="#c0c0c0"/>
<rect x="256" y="40" width="8" height="8" fill="#707070"/>
<rect x="264" y="40" width="8" height="8" fill="#b0b0b0"/>
<rect x="272" y="40" width="8" height="8" fill="#202020"/>
<rect x="280" y="40" width="8" height="8" fill="#888888"/>
<rect x="288" y="40" width="8" height="8" fill="#d8d8d8"/>
<rect x="296" y="40" width="8" height="8" fill="#606060"/>
<rect x="304" y="40" width="8" height="8" fill="#383838"/>
<rect x="112" y="48" width="8" height="8" fill="#383838"/>
<rect x="120" y="48" width="8" height="8" fill="#989898"/>
<rect x="128" y="48" width="8" height="8" fill="#484848"/>
<rect x="136" y="48" width="8" height="8" fill="#c0c0c0"/>
<rect x="144" y="48" width="8" height="8" fill="#404040"/>
<rect x="152" y="48" width="8" height="8" fill="#808080"/>
<rect x="160" y="48" width="8" height="8" fill="#505050"/>
<rect x="168" y="48" width="8" height="8" fill="#707070"/>
<rect x="176" y="48" width="8" height="8" fill="#606060"/>
<rect x="184" y="48" width="8" height="8" fill="#f0f0f0"/>
<rect x="200" y="48" width="8" height="8" fill="#989898"/>
<rect x="208" y="48" width="8" height="8" fill="#383838"/>
<rect x="216" y="48" width="8" height="8" fill="#b4b4b4"/>
<rect x="224" y="48" width="8" height="8" fill="#404040"/>
<rect x="232" y="48" width="8" height="8" fill="#505050"/>
<rect x="240" y="48" width="8" height="8" fill="#686868"/>
<rect x="248" y="48" width="8" height="8" fill="#787878"/>
<rect x="256" y="48" width="8" height="8" fill="#505050"/>
<rect x="264" y="48" width="8" height="8" fill="#b0b0b0"/>
<rect x="272" y="48" width="8" height="8" fill="#202020"/>
<rect x="280" y="48" width="8" height="8" fill="#a0a0a0"/>
<rect x="288" y="48" width="8" height="8" fill="#f8f8f8"/>
<rect x="296" y="48" width="8" height="8" fill="#404040"/>
<rect x="304" y="48" width="8" height="8" fill="#585858"/>
<rect x="312" y="48" width="8" height="8" fill="#e8e8e8"/>
<rect x="112" y="56" width="8" height="8" fill="#383838"/>
<rect x="120" y="56" width="8" height="8" fill="#c0c0c0"/>
<rect x="128" y="56" width="8" height="8" fill="#383838"/>
<rect x="136" y="56" width="8" height="8" fill="#b0b0b0"/>
<rect x="144" y="56" width="8" height="8" fill="#404040"/>
<rect x="152" y="56" width="8" height="8" fill="#808080"/>
<rect x="160" y="56" width="8" height="8" fill="#505050"/>
<rect x="168" y="56" width="8" height="8" fill="#e8e8e8"/>
<rect x="176" y="56" width="8" height="8" fill="#a8a8a8"/>
<rect x="184" y="56" width="8" height="8" fill="#484848"/>
<rect x="200" y="56" width="8" height="8" fill="#989898"/>
<rect x="208" y="56" width="8" height="8" fill="#686868"/>
<rect x="216" y="56" width="8" height="8" fill="#545454"/>
<rect x="224" y="56" width="8" height="8" fill="#686868"/>
<rect x="232" y="56" width="8" height="8" fill="#505050"/>
<rect x="240" y="56" width="8" height="8" fill="#686868"/>
<rect x="248" y="56" width="8" height="8" fill="#787878"/>
<rect x="256" y="56" width="8" height="8" fill="#505050"/>
<rect x="264" y="56" width="8" height="8" fill="#b0b0b0"/>
<rect x="272" y="56" width="8" height="8" fill="#202020"/>
<rect x="280" y="56" width="8" height="8" fill="#a0a0a0"/>
<rect x="288" y="56" width="8" height="8" fill="#e0e0e0"/>
<rect x="296" y="56" width="8" height="8" fill="#383838"/>
<rect x="304" y="56" width="8" height="8" fill="#585858"/>
<rect x="312" y="56" width="8" height="8" fill="#a8a8a8"/>
<rect x="112" y="64" width="8" height="8" fill="#686868"/>
<rect x="120" y="64" width="8" height="8" fill="#d8d8d8"/>
<rect x="128" y="64" width="8" height="8" fill="#404040"/>
<rect x="136" y="64" width="8" height="8" fill="#c0c0c0"/>
<rect x="144" y="64" width="8" height="8" fill="#808080"/>
<rect x="152" y="64" width="8" height="8" fill="#e0e0e0"/>
<rect x="160" y="64" width="8" height="8" fill="#808080"/>
<rect x="168" y="64" width="8" height="8" fill="#545454"/>
<rect x="176" y="64" width="8" height="8" fill="#d0d0d0"/>
<rect x="184" y="64" width="8" height="8" fill="#545454"/>
<rect x="200" y="64" width="8" height="8" fill="#b0b0b0"/>
<rect x="208" y="64" width="8" height="8" fill="#d8d8d8"/>
<rect x="216" y="64" width="8" height="8" fill="#282828"/>
<rect x="224" y="64" width="8" height="8" fill="#e0e0e0"/>
<rect x="232" y="64" width="8" height="8" fill="#787878"/>
<rect x="240" y="64" width="8" height="8" fill="#808080"/>
<rect x="248" y="64" width="8" height="8" fill="#d8d8d8"/>
<rect x="256" y="64" width="8" height="8" fill="#909090"/>
<rect x="264" y="64" width="8" height="8" fill="#c8c8c8"/>
<rect x="272" y="64" width="8" height="8" fill="#606060"/>
<rect x="280" y="64" width="8" height="8" fill="#ffffff"/>
<rect x="288" y="64" width="8" height="8" fill="#b0b0b0"/>
<rect x="296" y="64" width="8" height="8" fill="#787878"/>
<rect x="304" y="64" width="8" height="8" fill="#b0b0b0"/>
<rect x="312" y="64" width="8" height="8" fill="#686868"/>
<rect x="112" y="72" width="8" height="8" fill="#d0d0d0"/>
<rect x="120" y="72" width="8" height="8" fill="#c0c0c0"/>
<rect x="128" y="72" width="8" height="8" fill="#e8e8e8"/>
<rect x="136" y="72" width="8" height="8" fill="#f0f0f0"/>
<rect x="144" y="72" width="8" height="8" fill="#d8d8d8"/>
<rect x="152" y="72" width="8" height="8" fill="#f0f0f0"/>
<rect x="160" y="72" width="8" height="8" fill="#d8d8d8"/>
<rect x="168" y="72" width="8" height="8" fill="#e8e8e8"/>
<rect x="176" y="72" width="8" height="8" fill="#b8b8b8"/>
<rect x="184" y="72" width="8" height="8" fill="#f0f0f0"/>
<rect x="200" y="72" width="8" height="8" fill="#e8e8e8"/>
<rect x="208" y="72" width="8" height="8" fill="#e8e8e8"/>
<rect x="216" y="72" width="8" height="8" fill="#d0d0d0"/>
<rect x="224" y="72" width="8" height="8" fill="#f0f0f0"/>
<rect x="232" y="72" width="8" height="8" fill="#d8d8d8"/>
<rect x="240" y="72" width="8" height="8" fill="#d8d8d8"/>
<rect x="248" y="72" width="8" height="8" fill="#f0f0f0"/>
<rect x="256" y="72" width="8" height="8" fill="#e0e0e0"/>
<rect x="264" y="72" width="8" height="8" fill="#f0f0f0"/>
<rect x="272" y="72" width="8" height="8" fill="#d0d0d0"/>
<rect x="280" y="72" width="8" height="8" fill="#ffffff"/>
<rect x="288" y="72" width="8" height="8" fill="#e0e0e0"/>
<rect x="296" y="72" width="8" height="8" fill="#e8e8e8"/>
<rect x="304" y="72" width="8" height="8" fill="#f8f8f8"/>
<rect x="312" y="72" width="8" height="8" fill="#d0d0d0"/>
<rect x="113.0" y="70.2" width="18.5" height="1.8" fill="#0c0c0c"/>
<rect x="142.0" y="70.2" width="7.0" height="1.8" fill="#0c0c0c"/>
<rect x="159.0" y="70.2" width="6.0" height="1.8" fill="#0c0c0c"/>
<rect x="172.5" y="70.2" width="14.5" height="1.8" fill="#0c0c0c"/>
<rect x="205.0" y="70.2" width="10.0" height="1.8" fill="#0c0c0c"/>
<rect x="227.0" y="70.2" width="10.5" height="1.8" fill="#0c0c0c"/>
<rect x="243.0" y="70.2" width="6.5" height="1.8" fill="#0c0c0c"/>
<rect x="260.0" y="70.2" width="6.0" height="1.8" fill="#0c0c0c"/>
<rect x="272.0" y="70.2" width="8.0" height="1.8" fill="#0c0c0c"/>
<rect x="300.0" y="70.2" width="10.0" height="1.8" fill="#0c0c0c"/>
<rect x="280" y="70.8" width="10" height="1" fill="#333"/>
<g clip-path="url(#cEven)">
<text transform="translate(111.2,136.0) scale(0.488,1)" font-size="81.4" font-weight="bold" fill="#a0a0a0" letter-spacing="0" ><tspan fill="#cdcdcd">B</tspan><tspan fill="#9c9c9c">H</tspan><tspan fill="#8e8e8e">S</tspan> <tspan fill="#c2c2c2">M</tspan><tspan fill="#9a9a9a">H</tspan><tspan fill="#8a8a8a">F</tspan><tspan fill="#b2b2b2">A</tspan></text>
</g>
<g clip-path="url(#cGreyA)">
<text transform="translate(111.2,136.0) scale(0.488,1)" font-size="81.4" font-weight="bold" fill="#b4b4b4" letter-spacing="0" >BHS MHFA</text>
</g>
<g clip-path="url(#cBlk)"><g>
<text transform="translate(110.5,121.0) scale(0.721,1)" font-size="49.4" font-weight="bold" fill="#0a0a0a" letter-spacing="0" stroke="#0a0a0a" stroke-width="1.2">BHS MHFA</text>
</g></g>
<rect x="112" y="88" width="8" height="8" fill="#686868"/>
<rect x="120" y="88" width="8" height="8" fill="#585858"/>
<rect x="128" y="88" width="8" height="8" fill="#b0b0b0"/>
<rect x="136" y="88" width="8" height="8" fill="#e8e8e8"/>
<rect x="144" y="88" width="8" height="8" fill="#505050"/>
<rect x="152" y="88" width="8" height="8" fill="#505050"/>
<rect x="160" y="88" width="8" height="8" fill="#e8e8e8"/>
<rect x="168" y="88" width="8" height="8" fill="#606060"/>
<rect x="176" y="88" width="8" height="8" fill="#505050"/>
<rect x="184" y="88" width="8" height="8" fill="#d8d8d8"/>
<rect x="192" y="88" width="8" height="8" fill="#686868"/>
<rect x="200" y="88" width="8" height="8" fill="#d8d8d8"/>
<rect x="208" y="88" width="8" height="8" fill="#585858"/>
<rect x="216" y="88" width="8" height="8" fill="#808080"/>
<rect x="224" y="88" width="8" height="8" fill="#b0b0b0"/>
<rect x="232" y="88" width="8" height="8" fill="#b8b8b8"/>
<rect x="240" y="88" width="8" height="8" fill="#c0c0c0"/>
<rect x="248" y="88" width="8" height="8" fill="#484848"/>
<rect x="256" y="88" width="8" height="8" fill="#707070"/>
<rect x="264" y="88" width="8" height="8" fill="#e8e8e8"/>
<rect x="272" y="88" width="8" height="8" fill="#484848"/>
<rect x="280" y="88" width="8" height="8" fill="#e8e8e8"/>
<rect x="288" y="88" width="8" height="8" fill="#787878"/>
<rect x="296" y="88" width="8" height="8" fill="#f0f0f0"/>
<rect x="112" y="104" width="8" height="8" fill="#383838"/>
<rect x="120" y="104" width="8" height="8" fill="#f8f8f8"/>
<rect x="128" y="104" width="8" height="8" fill="#606060"/>
<rect x="136" y="104" width="8" height="8" fill="#989898"/>
<rect x="144" y="104" width="8" height="8" fill="#181818"/>
<rect x="152" y="104" width="8" height="8" fill="#585858"/>
<rect x="160" y="104" width="8" height="8" fill="#888888"/>
<rect x="168" y="104" width="8" height="8" fill="#909090"/>
<rect x="176" y="104" width="8" height="8" fill="#ffffff"/>
<rect x="184" y="104" width="8" height="8" fill="#ffffff"/>
<rect x="192" y="104" width="8" height="8" fill="#383838"/>
<rect x="200" y="104" width="8" height="8" fill="#e8e8e8"/>
<rect x="208" y="104" width="8" height="8" fill="#585858"/>
<rect x="216" y="104" width="8" height="8" fill="#585858"/>
<rect x="224" y="104" width="8" height="8" fill="#a8a8a8"/>
<rect x="232" y="104" width="8" height="8" fill="#787878"/>
<rect x="240" y="104" width="8" height="8" fill="#303030"/>
<rect x="248" y="104" width="8" height="8" fill="#ffffff"/>
<rect x="256" y="104" width="8" height="8" fill="#787878"/>
<rect x="264" y="104" width="8" height="8" fill="#787878"/>
<rect x="272" y="104" width="8" height="8" fill="#585858"/>
<rect x="280" y="104" width="8" height="8" fill="#585858"/>
<rect x="288" y="104" width="8" height="8" fill="#484848"/>
<rect x="296" y="104" width="8" height="8" fill="#f0f0f0"/>
<rect x="112" y="120" width="8" height="8" fill="#585858"/>
<rect x="120" y="120" width="8" height="8" fill="#484848"/>
<rect x="128" y="120" width="8" height="8" fill="#989898"/>
<rect x="136" y="120" width="8" height="8" fill="#e0e0e0"/>
<rect x="144" y="120" width="8" height="8" fill="#404040"/>
<rect x="152" y="120" width="8" height="8" fill="#484848"/>
<rect x="160" y="120" width="8" height="8" fill="#e8e8e8"/>
<rect x="168" y="120" width="8" height="8" fill="#585858"/>
<rect x="176" y="120" width="8" height="8" fill="#484848"/>
<rect x="184" y="120" width="8" height="8" fill="#d0d0d0"/>
<rect x="192" y="120" width="8" height="8" fill="#585858"/>
<rect x="200" y="120" width="8" height="8" fill="#d0d0d0"/>
<rect x="208" y="120" width="8" height="8" fill="#484848"/>
<rect x="216" y="120" width="8" height="8" fill="#585858"/>
<rect x="224" y="120" width="8" height="8" fill="#b0b0b0"/>
<rect x="232" y="120" width="8" height="8" fill="#a0a0a0"/>
<rect x="240" y="120" width="8" height="8" fill="#b0b0b0"/>
<rect x="248" y="120" width="8" height="8" fill="#404040"/>
<rect x="256" y="120" width="8" height="8" fill="#686868"/>
<rect x="264" y="120" width="8" height="8" fill="#e0e0e0"/>
<rect x="272" y="120" width="8" height="8" fill="#707070"/>
<rect x="280" y="120" width="8" height="8" fill="#d8d8d8"/>
<rect x="288" y="120" width="8" height="8" fill="#383838"/>
<rect x="296" y="120" width="8" height="8" fill="#f0f0f0"/>
<rect x="192.5" y="94" width="7.5" height="28" fill="#333"/>
<rect x="160" y="96" width="6" height="8" fill="#585858"/><rect x="160" y="112" width="6" height="8" fill="#585858"/>
<rect x="288" y="96" width="8" height="32" fill="#484848"/>
<rect x="104" y="136" width="8" height="8" fill="#ffffff"/>
<rect x="112" y="136" width="8" height="8" fill="#dddddd"/>
<rect x="120" y="136" width="8" height="8" fill="#dddddd"/>
<rect x="128" y="136" width="8" height="8" fill="#eeeeee"/>
<rect x="136" y="136" width="8" height="8" fill="#dddddd"/>
<rect x="144" y="136" width="8" height="8" fill="#dddddd"/>
<rect x="152" y="136" width="8" height="8" fill="#ffffff"/>
<rect x="160" y="136" width="8" height="8" fill="#eeeeee"/>
<rect x="168" y="136" width="8" height="8" fill="#dddddd"/>
<rect x="176" y="136" width="8" height="8" fill="#eeeeee"/>
<rect x="184" y="136" width="8" height="8" fill="#eeeeee"/>
<rect x="192" y="136" width="8" height="8" fill="#dddddd"/>
<rect x="200" y="136" width="8" height="8" fill="#eeeeee"/>
<rect x="104" y="144" width="8" height="8" fill="#eeeeee"/>
<rect x="112" y="144" width="8" height="8" fill="#888888"/>
<rect x="120" y="144" width="8" height="8" fill="#555555"/>
<rect x="128" y="144" width="8" height="8" fill="#cccccc"/>
<rect x="136" y="144" width="8" height="8" fill="#333333"/>
<rect x="144" y="144" width="8" height="8" fill="#888888"/>
<rect x="152" y="144" width="8" height="8" fill="#777777"/>
<rect x="160" y="144" width="8" height="8" fill="#777777"/>
<rect x="168" y="144" width="8" height="8" fill="#ffffff"/>
<rect x="176" y="144" width="8" height="8" fill="#444444"/>
<rect x="184" y="144" width="8" height="8" fill="#777777"/>
<rect x="192" y="144" width="8" height="8" fill="#dddddd"/>
<rect x="112" y="152" width="8" height="8" fill="#dddddd"/>
<rect x="120" y="152" width="8" height="8" fill="#555555"/>
<rect x="128" y="152" width="8" height="8" fill="#ffffff"/>
<rect x="136" y="152" width="8" height="8" fill="#222222"/>
<rect x="144" y="152" width="8" height="8" fill="#eeeeee"/>
<rect x="152" y="152" width="8" height="8" fill="#555555"/>
<rect x="160" y="152" width="8" height="8" fill="#555555"/>
<rect x="168" y="152" width="8" height="8" fill="#888888"/>
<rect x="176" y="152" width="8" height="8" fill="#dddddd"/>
<rect x="184" y="152" width="8" height="8" fill="#444444"/>
<rect x="192" y="152" width="8" height="8" fill="#999999"/>
<rect x="200" y="152" width="8" height="8" fill="#eeeeee"/>
<rect x="112" y="160" width="8" height="8" fill="#dddddd"/>
<rect x="120" y="160" width="8" height="8" fill="#555555"/>
<rect x="128" y="160" width="8" height="8" fill="#ffffff"/>
<rect x="136" y="160" width="8" height="8" fill="#111111"/>
<rect x="144" y="160" width="8" height="8" fill="#222222"/>
<rect x="152" y="160" width="8" height="8" fill="#cccccc"/>
<rect x="160" y="160" width="8" height="8" fill="#555555"/>
<rect x="168" y="160" width="8" height="8" fill="#777777"/>
<rect x="176" y="160" width="8" height="8" fill="#dddddd"/>
<rect x="184" y="160" width="8" height="8" fill="#444444"/>
<rect x="192" y="160" width="8" height="8" fill="#888888"/>
<rect x="200" y="160" width="8" height="8" fill="#eeeeee"/>
<rect x="112" y="168" width="8" height="8" fill="#dddddd"/>
<rect x="120" y="168" width="8" height="8" fill="#555555"/>
<rect x="128" y="168" width="8" height="8" fill="#ffffff"/>
<rect x="136" y="168" width="8" height="8" fill="#222222"/>
<rect x="144" y="168" width="8" height="8" fill="#aaaaaa"/>
<rect x="152" y="168" width="8" height="8" fill="#888888"/>
<rect x="160" y="168" width="8" height="8" fill="#555555"/>
<rect x="168" y="168" width="8" height="8" fill="#777777"/>
<rect x="176" y="168" width="8" height="8" fill="#cccccc"/>
<rect x="184" y="168" width="8" height="8" fill="#444444"/>
<rect x="192" y="168" width="8" height="8" fill="#888888"/>
<rect x="200" y="168" width="8" height="8" fill="#dddddd"/>
<rect x="113.0" y="143.5" width="14.0" height="2" fill="#111"/>
<rect x="136.0" y="143.5" width="15.0" height="2" fill="#111"/>
<rect x="158.5" y="143.5" width="5.5" height="2" fill="#111"/>
<rect x="172.0" y="143.5" width="19.0" height="2" fill="#111"/>
<rect x="204.9" y="143.7" width="6.1" height="1.8" fill="#1a1a1a"/>
<rect x="217.9" y="143.7" width="6.1" height="1.8" fill="#1a1a1a"/>
<rect x="230.2" y="143.7" width="6.8" height="1.8" fill="#1a1a1a"/>
<rect x="243.2" y="143.7" width="6.8" height="1.8" fill="#1a1a1a"/>
<rect x="259.6" y="143.7" width="6.9" height="1.8" fill="#1a1a1a"/>
<rect x="272.0" y="143.7" width="6.8" height="1.8" fill="#1a1a1a"/>
<rect x="291.8" y="143.7" width="7.5" height="1.8" fill="#1a1a1a"/>
<rect x="311.0" y="143.7" width="6.8" height="1.8" fill="#1a1a1a"/>
<g clip-path="url(#cDec)">
<text transform="translate(111.1,246.0) scale(0.403,1)" font-size="97" font-weight="bold" fill="#a8a8a8" letter-spacing="0" ><tspan fill="#c2c2c2">D</tspan><tspan fill="#b4b4b4">E</tspan><tspan fill="#8e8e8e">C</tspan><tspan fill="#cacaca">I</tspan><tspan fill="#858585">S</tspan><tspan fill="#787878">I</tspan><tspan fill="#b8b8b8">O</tspan><tspan fill="#989898">N</tspan></text>
</g>
<g clip-path="url(#cDecTop)">
<text transform="translate(111.1,246.0) scale(0.403,1)" font-size="97" font-weight="bold" fill="#777" letter-spacing="0" >DECISION</text>
</g>
<rect x="111" y="278" width="22" height="1.5" fill="#222"/>
<rect x="136" y="278" width="14" height="1.5" fill="#222"/>
<rect x="151" y="278" width="3" height="1.5" fill="#222"/>
<rect x="163" y="278" width="18" height="1.5" fill="#222"/>
<rect x="186" y="278" width="18" height="1.5" fill="#222"/>
</g>
<g id="centre">
<clipPath id="ca1"><rect x="400" y="133.0" width="140" height="3.6"/></clipPath>
<clipPath id="cb1"><rect x="400" y="143.6" width="140" height="7.9"/></clipPath>
<g clip-path="url(#ca1)"><text transform="translate(432.8,140.7) scale(0.88,1)" font-size="10.9" font-weight="bold" fill="#141414" stroke="#141414" stroke-width="0.35" textLength="74.7" lengthAdjust="spacing">WHAT MHFA</text></g>
<g clip-path="url(#cb1)"><text transform="translate(432.8,150.7) scale(0.88,1)" font-size="10.9" font-weight="bold" fill="#5a5a5a" stroke="#5a5a5a" stroke-width="0.35" textLength="74.7" lengthAdjust="spacing">WHAT MHFA</text></g>
<clipPath id="ca2"><rect x="400" y="164.0" width="140" height="4.6"/></clipPath>
<clipPath id="cb2"><rect x="400" y="176.2" width="140" height="6.8"/></clipPath>
<g clip-path="url(#ca2)"><text transform="translate(430.6,171.5) scale(0.88,1)" font-size="10.9" font-weight="bold" fill="#141414" stroke="#141414" stroke-width="0.35" textLength="80.0" lengthAdjust="spacing">CURRICULUM</text></g>
<g clip-path="url(#cb2)"><text transform="translate(430.6,182.0) scale(0.88,1)" font-size="10.9" font-weight="bold" fill="#222" stroke="#222" stroke-width="0.35" textLength="80.0" lengthAdjust="spacing">CURRICULUM</text></g>
<clipPath id="ca3"><rect x="400" y="195.5" width="140" height="4.9"/></clipPath>
<clipPath id="cb3"><rect x="400" y="208.3" width="140" height="5.3"/></clipPath>
<g clip-path="url(#ca3)"><text transform="translate(443.6,203.1) scale(0.88,1)" font-size="10.9" font-weight="bold" fill="#141414" stroke="#141414" stroke-width="0.35" textLength="51.8" lengthAdjust="spacing">ARE YOU</text></g>
<g clip-path="url(#cb3)"><text transform="translate(443.6,213.0) scale(0.88,1)" font-size="10.9" font-weight="bold" fill="#222" stroke="#222" stroke-width="0.35" textLength="51.8" lengthAdjust="spacing">ARE YOU</text></g>
<clipPath id="ca4"><rect x="400" y="227.0" width="140" height="5.0"/></clipPath>
<clipPath id="cb4"><rect x="400" y="238.2" width="140" height="6.8"/></clipPath>
<g clip-path="url(#ca4)"><text transform="translate(424.8,234.5) scale(0.88,1)" font-size="10.9" font-weight="bold" fill="#141414" stroke="#141414" stroke-width="0.35" textLength="93.0" lengthAdjust="spacing">INTERESTED IN?</text></g>
<g clip-path="url(#cb4)"><text transform="translate(424.8,244.2) scale(0.88,1)" font-size="10.9" font-weight="bold" fill="#222" stroke="#222" stroke-width="0.35" textLength="93.0" lengthAdjust="spacing">INTERESTED IN?</text></g>
</g>
<g id="labels" fill="#444" font-size="6.8">
<text x="346.3" y="183.8" textLength="16" lengthAdjust="spacingAndGlyphs">Youth</text>
<clipPath id="cl1"><rect x="340" y="197.3" width="30" height="2.4"/><rect x="340" y="207" width="30" height="2.8"/></clipPath>
<g clip-path="url(#cl1)"><text x="345" y="200.5" textLength="17" lengthAdjust="spacingAndGlyphs">and/or</text><text x="345" y="210" textLength="17" lengthAdjust="spacingAndGlyphs">and/or</text></g>
<rect x="348.5" y="215" width="2.5" height="0.8" fill="#555"/>
<clipPath id="cl2"><rect x="340" y="224.2" width="30" height="6"/></clipPath>
<g clip-path="url(#cl2)"><text x="348.3" y="228.3" textLength="13" lengthAdjust="spacingAndGlyphs">Teen</text></g>
</g>
<g id="stray">
<path d="M11.5,200.2 L46.3,206.5" stroke="#555" stroke-width="0.7" fill="none"/>
<text x="59" y="207.6" font-size="4.6" font-style="italic" font-weight="bold" fill="#666" textLength="14" lengthAdjust="spacingAndGlyphs">Adult</text>
<path d="M58.5,216.5 H73" stroke="#777" stroke-width="0.9" stroke-dasharray="1.6,0.7" fill="none"/>
<rect x="65.2" y="249.4" width="0.8" height="6.0" fill="#666"/>
<rect x="65.2" y="264.0" width="0.8" height="7.7" fill="#666"/>
<rect x="65.2" y="280.0" width="0.8" height="7.7" fill="#666"/>
<rect x="353.9" y="243.0" width="0.8" height="9.5" fill="#555"/>
<rect x="353.9" y="255.0" width="0.8" height="10.0" fill="#555"/>
<rect x="353.9" y="267.5" width="0.8" height="11.5" fill="#555"/>
</g>
<g id="mhfa">
<path d="M103.4,451.5 Q103.4,446.0 108.9,446.0 H117.9 V455.0 Q117.9,460.5 112.4,460.5 H103.4 Z" fill="#f8431f"/>
<path d="M89.0,466.3 Q89.0,460.8 94.5,460.8 H103.5 V469.8 Q103.5,475.3 98.0,475.3 H89.0 Z" fill="#f8431f"/>
<path d="M118.0,466.3 Q118.0,460.8 123.5,460.8 H132.5 V469.8 Q132.5,475.3 127.0,475.3 H118.0 Z" fill="#f8431f"/>
<path d="M103.5,480.8 Q103.5,475.3 109.0,475.3 H118.0 V484.3 Q118.0,489.8 112.5,489.8 H103.5 Z" fill="#f8431f"/>
<rect x="64" y="503.5" width="96" height="15.3" fill="#e9efef"/>
<text x="67.7" y="514" font-size="12.6" font-weight="bold" fill="#4c6b69" textLength="85.8" lengthAdjust="spacingAndGlyphs">Mental Health</text>
<text x="84.7" y="525.6" font-size="8.6" font-weight="bold" fill="#e2492a" textLength="52.3" lengthAdjust="spacing">FIRST AID</text>
<rect x="48" y="528.5" width="120.5" height="7" fill="#f9fbfb"/><rect x="48" y="535" width="120.5" height="25" fill="#f3f6f6"/>
<text x="53.8" y="543.2" font-size="6.4" font-style="italic" font-family="Liberation Serif, serif" fill="#5d7c7a">from</text>
<text x="69.5" y="543.2" font-size="7.3" fill="#6a8886" textLength="98.5" lengthAdjust="spacing">NATIONAL COUNCIL FOR</text>
<text x="54.3" y="553.6" font-size="9" fill="#56726f" textLength="113.7" lengthAdjust="spacing">MENTAL WELLBEING</text>
</g>
<g id="bhs" fill="none" stroke-linecap="round" stroke-width="3.9">
<path d="M824.5,96.5 L855.0,96.5" stroke="#56b2ea"/>
<path d="M835.5,84.5 L853.0,88.0" stroke="#56b2ea"/>
<path d="M830.5,70.8 L858.5,81.6" stroke="#56b2ea"/>
<path d="M840.5,60.0 L857.5,72.0" stroke="#56b2ea"/>
<path d="M844.5,44.5 L864.5,69.5" stroke="#56b2ea"/>
<path d="M861.0,44.8 L870.0,62.8" stroke="#f2932c"/>
<path d="M873.8,28.8 L879.2,63.2" stroke="#f2932c"/>
<path d="M888.9,37.0 L889.4,59.8" stroke="#f2932c"/>
<path d="M903.0,29.8 L897.0,63.8" stroke="#f2932c"/>
<path d="M914.0,47.8 L906.6,63.8" stroke="#f2932c"/>
<path d="M930.5,44.5 L911.2,69.5" stroke="#a9ea37"/>
<path d="M934.3,62.3 L917.0,75.2" stroke="#a9ea37"/>
<path d="M945.5,72.5 L917.0,83.2" stroke="#a9ea37"/>
<path d="M938.8,86.9 L921.5,89.4" stroke="#a9ea37"/>
<path d="M949.0,95.8 L919.2,95.8" stroke="#a9ea37"/>
<path d="M861,97 V92 C861,58 915.5,58 915.5,92 V97" stroke="#a6e3e0" stroke-width="2"/>
</g>
<text x="870.3" y="96.5" font-size="23.5" fill="#55aadf" textLength="34.5" lengthAdjust="spacingAndGlyphs">BHS</text>
<text x="809.3" y="112.8" font-size="13.4" fill="#62b1de" textLength="160.3" lengthAdjust="spacingAndGlyphs">Behavioral Health Springboard</text>
</g></svg></body></html>
